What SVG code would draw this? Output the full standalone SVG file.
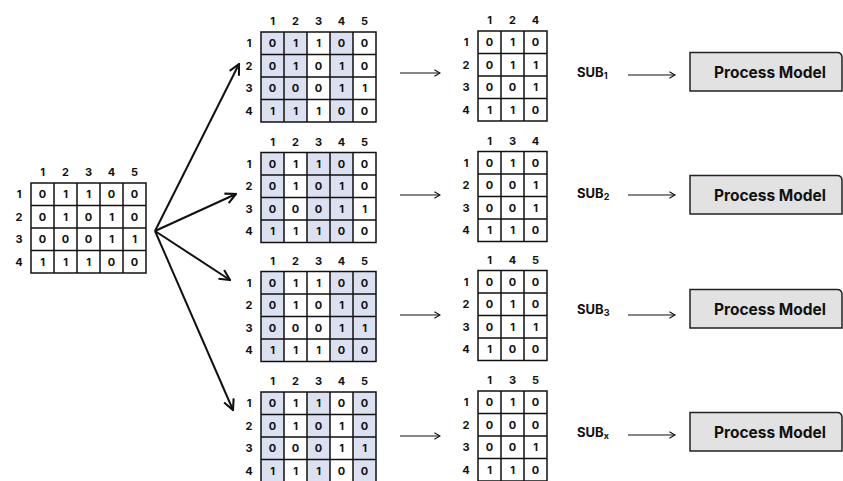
<svg xmlns="http://www.w3.org/2000/svg" xmlns:xlink="http://www.w3.org/1999/xlink" width="843" height="481" viewBox="0 0 843 481">
<style>
text{font-family:Inter,"Liberation Sans",Arial,sans-serif;font-weight:700;fill:#111}
.d{font-size:11px;text-anchor:middle}
.grid{fill:none;stroke:#111;stroke-width:1.5}
.sh{fill:#dbe1f0}
.cell{fill:#fff}
.ar{fill:none;stroke:#111;stroke-width:2}
.sa{fill:none;stroke:#111;stroke-width:1.2}
.pm{fill:#e2e2e2;stroke:#222;stroke-width:1.5}
.pt{font-size:15.5px;text-anchor:middle}
.sub{font-size:13px}
</style>
<defs>
<marker id="ah" viewBox="0 0 10 10" refX="9" refY="5" markerWidth="13" markerHeight="13" markerUnits="userSpaceOnUse" orient="auto">
<path d="M1,1 L9,5 L1,9" fill="none" stroke="#111" stroke-width="1.6"/>
</marker>
<marker id="ahs" viewBox="0 0 10 10" refX="9" refY="5" markerWidth="8" markerHeight="8" markerUnits="userSpaceOnUse" orient="auto">
<path d="M2,1 L9,5 L2,9" fill="none" stroke="#111" stroke-width="1.4"/>
</marker>
<g id="g5">
<path class="grid" d="M0,0H115V90H0Z M23,0V90 M46,0V90 M69,0V90 M92,0V90 M0,22.5H115 M0,45H115 M0,67.5H115"/>
<g class="d">
<text x="11.5" y="-7">1</text><text x="34.5" y="-7">2</text><text x="57.5" y="-7">3</text><text x="80.5" y="-7">4</text><text x="103.5" y="-7">5</text>
<text x="-12" y="15.3">1</text><text x="-12" y="37.8">2</text><text x="-12" y="60.3">3</text><text x="-12" y="82.8">4</text>
<text x="11.5" y="15.3">0</text><text x="34.5" y="15.3">1</text><text x="57.5" y="15.3">1</text><text x="80.5" y="15.3">0</text><text x="103.5" y="15.3">0</text>
<text x="11.5" y="37.8">0</text><text x="34.5" y="37.8">1</text><text x="57.5" y="37.8">0</text><text x="80.5" y="37.8">1</text><text x="103.5" y="37.8">0</text>
<text x="11.5" y="60.3">0</text><text x="34.5" y="60.3">0</text><text x="57.5" y="60.3">0</text><text x="80.5" y="60.3">1</text><text x="103.5" y="60.3">1</text>
<text x="11.5" y="82.8">1</text><text x="34.5" y="82.8">1</text><text x="57.5" y="82.8">1</text><text x="80.5" y="82.8">0</text><text x="103.5" y="82.8">0</text>
</g>
</g>
<path id="g3" class="grid" d="M0,0H69V90H0Z M23,0V90 M46,0V90 M0,22.5H69 M0,45H69 M0,67.5H69"/>
<g id="rl"><text class="d" x="-12" y="15.3">1</text><text class="d" x="-12" y="37.8">2</text><text class="d" x="-12" y="60.3">3</text><text class="d" x="-12" y="82.8">4</text></g>
<path id="pmbox" class="pm" d="M690,0H837Q842,0 842,5V38.5H690Z"/>
</defs>
<rect width="843" height="481" fill="#fff"/>

<g id="source" transform="translate(31,183)">
<rect class="cell" width="115" height="90"/>
<use xlink:href="#g5"/>
</g>

<g id="m1" transform="translate(261,32)">
<rect class="cell" width="115" height="90"/>
<rect class="sh" x="0" width="46" height="90"/><rect class="sh" x="69" width="23" height="90"/>
<use xlink:href="#g5"/>
</g>
<g id="m2" transform="translate(261,152.5)">
<rect class="cell" width="115" height="90"/>
<rect class="sh" x="0" width="23" height="90"/><rect class="sh" x="46" width="46" height="90"/>
<use xlink:href="#g5"/>
</g>
<g id="m3" transform="translate(261,271.5)">
<rect class="cell" width="115" height="90"/>
<rect class="sh" x="0" width="23" height="90"/><rect class="sh" x="69" width="46" height="90"/>
<use xlink:href="#g5"/>
</g>
<g id="m4" transform="translate(261,392)">
<rect class="cell" width="115" height="90"/>
<rect class="sh" x="0" width="23" height="90"/><rect class="sh" x="46" width="23" height="90"/><rect class="sh" x="92" width="23" height="90"/>
<use xlink:href="#g5"/>
</g>

<g id="r1" transform="translate(478,31)">
<rect class="cell" width="69" height="90"/><use xlink:href="#g3"/><use xlink:href="#rl"/>
<g class="d">
<text x="11.5" y="-7">1</text><text x="34.5" y="-7">2</text><text x="57.5" y="-7">4</text>
<text x="11.5" y="15.3">0</text><text x="34.5" y="15.3">1</text><text x="57.5" y="15.3">0</text>
<text x="11.5" y="37.8">0</text><text x="34.5" y="37.8">1</text><text x="57.5" y="37.8">1</text>
<text x="11.5" y="60.3">0</text><text x="34.5" y="60.3">0</text><text x="57.5" y="60.3">1</text>
<text x="11.5" y="82.8">1</text><text x="34.5" y="82.8">1</text><text x="57.5" y="82.8">0</text>
</g>
</g>
<g id="r2" transform="translate(478,151.5)">
<rect class="cell" width="69" height="90"/><use xlink:href="#g3"/><use xlink:href="#rl"/>
<g class="d">
<text x="11.5" y="-7">1</text><text x="34.5" y="-7">3</text><text x="57.5" y="-7">4</text>
<text x="11.5" y="15.3">0</text><text x="34.5" y="15.3">1</text><text x="57.5" y="15.3">0</text>
<text x="11.5" y="37.8">0</text><text x="34.5" y="37.8">0</text><text x="57.5" y="37.8">1</text>
<text x="11.5" y="60.3">0</text><text x="34.5" y="60.3">0</text><text x="57.5" y="60.3">1</text>
<text x="11.5" y="82.8">1</text><text x="34.5" y="82.8">1</text><text x="57.5" y="82.8">0</text>
</g>
</g>
<g id="r3" transform="translate(478,270.5)">
<rect class="cell" width="69" height="90"/><use xlink:href="#g3"/><use xlink:href="#rl"/>
<g class="d">
<text x="11.5" y="-7">1</text><text x="34.5" y="-7">4</text><text x="57.5" y="-7">5</text>
<text x="11.5" y="15.3">0</text><text x="34.5" y="15.3">0</text><text x="57.5" y="15.3">0</text>
<text x="11.5" y="37.8">0</text><text x="34.5" y="37.8">1</text><text x="57.5" y="37.8">0</text>
<text x="11.5" y="60.3">0</text><text x="34.5" y="60.3">1</text><text x="57.5" y="60.3">1</text>
<text x="11.5" y="82.8">1</text><text x="34.5" y="82.8">0</text><text x="57.5" y="82.8">0</text>
</g>
</g>
<g id="r4" transform="translate(478,391)">
<rect class="cell" width="69" height="90"/><use xlink:href="#g3"/><use xlink:href="#rl"/>
<g class="d">
<text x="11.5" y="-7">1</text><text x="34.5" y="-7">3</text><text x="57.5" y="-7">5</text>
<text x="11.5" y="15.3">0</text><text x="34.5" y="15.3">1</text><text x="57.5" y="15.3">0</text>
<text x="11.5" y="37.8">0</text><text x="34.5" y="37.8">0</text><text x="57.5" y="37.8">0</text>
<text x="11.5" y="60.3">0</text><text x="34.5" y="60.3">0</text><text x="57.5" y="60.3">1</text>
<text x="11.5" y="82.8">1</text><text x="34.5" y="82.8">1</text><text x="57.5" y="82.8">0</text>
</g>
</g>

<g id="sub1"><text class="sub" x="577" y="77">SUB<tspan font-size="9px" dy="2">1</tspan></text></g>
<g id="sub2"><text class="sub" x="577" y="198">SUB<tspan font-size="9px" dy="2">2</tspan></text></g>
<g id="sub3"><text class="sub" x="577" y="314">SUB<tspan font-size="9px" dy="2">3</tspan></text></g>
<g id="subx"><text class="sub" x="577" y="437">SUB<tspan font-size="9px" dy="2">x</tspan></text></g>

<g id="pm1" transform="translate(0,52.5)"><use xlink:href="#pmbox"/><text class="pt" x="770" y="25">Process Model</text></g>
<g id="pm2" transform="translate(0,175.5)"><use xlink:href="#pmbox"/><text class="pt" x="770" y="25">Process Model</text></g>
<g id="pm3" transform="translate(0,289.5)"><use xlink:href="#pmbox"/><text class="pt" x="770" y="25">Process Model</text></g>
<g id="pm4" transform="translate(0,412.5)"><use xlink:href="#pmbox"/><text class="pt" x="770" y="25">Process Model</text></g>

<g id="connectors">
<path class="ar" marker-end="url(#ah)" d="M155,231L239,64"/>
<path class="ar" marker-end="url(#ah)" d="M155,231L236,194"/>
<path class="ar" marker-end="url(#ah)" d="M155,231L230,280"/>
<path class="ar" marker-end="url(#ah)" d="M155,231L233,410"/>
<path class="sa" marker-end="url(#ahs)" d="M400,73H440"/>
<path class="sa" marker-end="url(#ahs)" d="M400,195H440"/>
<path class="sa" marker-end="url(#ahs)" d="M400,315H440"/>
<path class="sa" marker-end="url(#ahs)" d="M400,436H440"/>
<path class="sa" marker-end="url(#ahs)" d="M628,75H675"/>
<path class="sa" marker-end="url(#ahs)" d="M628,195H675"/>
<path class="sa" marker-end="url(#ahs)" d="M628,315H675"/>
<path class="sa" marker-end="url(#ahs)" d="M628,435H675"/>
</g>
</svg>
